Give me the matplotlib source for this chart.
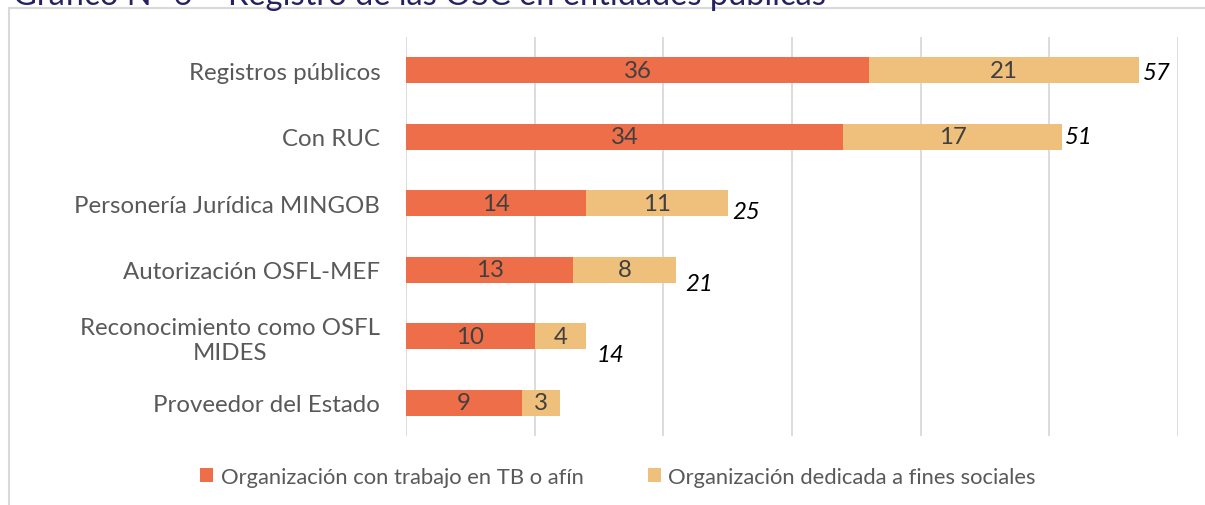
import numpy as np
import matplotlib.pyplot as plt
from matplotlib.patches import Rectangle

categorias = ['Registros públicos', 'Con RUC', 'Personería Jurídica MINGOB',
              'Autorización OSFL-MEF', 'Reconocimiento como OSFL\nMIDES',
              'Proveedor del Estado']
tb = [36, 34, 14, 13, 10, 9]
sociales = [21, 17, 11, 8, 4, 3]
mostrar_total = [True, True, True, True, True, False]

serie1 = 'Organización con trabajo en TB o afín'
serie2 = 'Organización dedicada a fines sociales'
titulo = 'Gráfico N° 6 – Registro de las OSC en entidades públicas'

c1 = '#EF6E4A'
c2 = '#EEC07B'
gris = '#595959'
fs = 17.3

plt.rcParams['font.family'] = ['Lato', 'DejaVu Sans']

W, H = 1205, 506
fig = plt.figure(figsize=(W/100, H/100), dpi=100)
ax = fig.add_axes([406/W, 1 - 437.3/H, (1178 - 406)/W, (437.3 - 37.7)/H])

y = np.arange(len(categorias))
tb = np.array(tb)
sociales = np.array(sociales)
b1 = ax.barh(y, tb, height=0.39, color=c1, label=serie1, zorder=3)
b2 = ax.barh(y, sociales, left=tb, height=0.39, color=c2, label=serie2, zorder=3)

for i in range(len(y)):
    ax.text(tb[i]/2, y[i], str(tb[i]), ha='center', va='center', fontsize=fs, color='#404040', zorder=4)
    ax.text(tb[i] + sociales[i]/2, y[i], str(sociales[i]), ha='center', va='center', fontsize=fs, color='#404040', zorder=4)

# posiciones de las etiquetas de total (como en Excel)
desp = [(4, -3), (3, 0), (5, -8), (9, -14), (10, -18), (0, 0)]
for i in range(len(y)):
    if mostrar_total[i]:
        tot = tb[i] + sociales[i]
        ax.annotate(str(tot), (tot, y[i]), xytext=desp[i], textcoords='offset pixels',
                    ha='left', va='center', fontsize=fs, style='italic', color='black', zorder=4)

ax.set_xlim(0, 60)
ax.set_ylim(5.5, -0.5)
ax.set_xticks(np.arange(0, 61, 10))
ax.set_xticklabels([])
ax.set_yticks(y)
ax.set_yticklabels(categorias, fontsize=fs, color=gris)
for t in ax.get_yticklabels():
    t.set_multialignment('center')
    t.set_linespacing(1.2)
ax.tick_params(length=0, pad=18.5)
ax.grid(axis='x', color='#D9D9D9', lw=1.3, zorder=0)
for s in ax.spines.values():
    s.set_visible(False)

fig.legend(handles=[b1, b2], loc='center', bbox_to_anchor=(618/W, 1 - 478/H), ncol=2,
           frameon=False, fontsize=15.8, labelcolor=gris, handlelength=0.6, handleheight=0.6,
           handletextpad=0.35, columnspacing=2.9)

fig.patches.append(Rectangle((8.5/W, -0.1), 1.1, 1 - 9/H + 0.1, transform=fig.transFigure,
                             fill=False, ec='#D9D9D9', lw=1.5))
fig.text(13/W, 1 - 5/H, titulo, ha='left', va='baseline', fontsize=23.5, color='#262262')

plt.savefig('out.png', dpi=100)
